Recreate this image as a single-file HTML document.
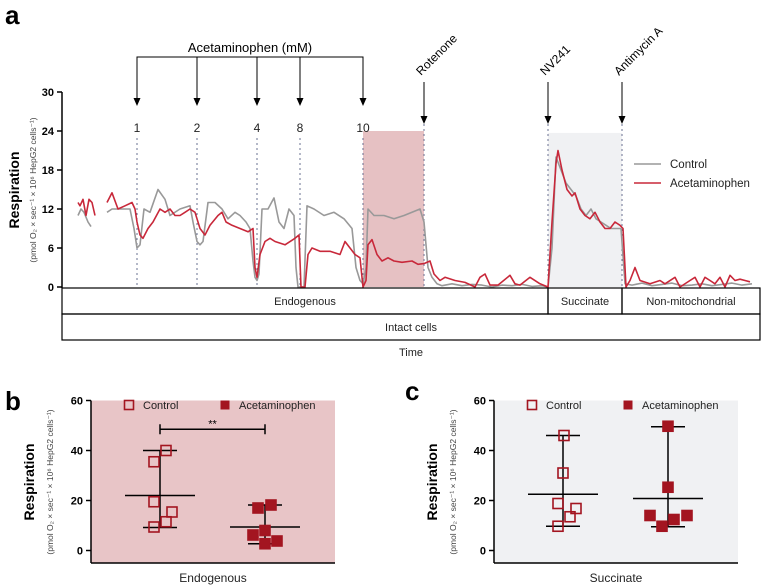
<!DOCTYPE html>
<html><head><meta charset="utf-8">
<style>
body{margin:0;background:#fff;font-family:"Liberation Sans",Arial,sans-serif;}
svg{display:block}
text{font-family:"Liberation Sans",Arial,sans-serif}
</style></head>
<body>
<svg id="fig" width="762" height="586" viewBox="0 0 762 586">
<g id="pa"></g>
<g id="pb"></g>
<g id="pc"></g>
</svg>
<script>
// ---- Panel a data: [time, respiration] pairs (null = gap) ----
const ctrlPoints=[[16,11],[19,12],[22,11.5],[26,10],[29,9.3],[33,null],
[45,11.5],[50,12],[58,12],[68,12],[72,9],[75,6],[78,6.5],[82,12],[88,11.5],[96,15],
[103,13.5],[108,11],[118,12],[128,12.5],[131,10],[135,7],[138,6.5],[141,7],[146,13],[153,13],
[160,12],[166,10.5],[173,11.5],[178,11],[184,10],[188,9],[191,4],[193,1.5],[195,1],[197,2],
[200,12],[206,12],[212,13.7],[217,10],[222,9],[227,12],[232,11],[234,3],[236,0],[242,0],
[245,12.5],[252,12],[262,11],[272,11.5],[282,10.5],[290,9],[294,3],[298,1],[301,0.5],[304,3],
[306,12],[312,11],[322,11],[332,10.5],[342,11],[350,11.5],[358,12],[362,10],[366,3],[370,1.5],
[375,0.5],[380,0.2],[390,0.5],[400,0.2],[410,0.4],[420,0.3],[430,0],[440,0.3],[450,0.2],[460,0.4],
[470,0.1],[480,0.2],[486,0],[490,6],[494,20],[499,18],[504,16],[509,15],[514,14],[519,12],
[524,11],[529,12],[534,10.5],[539,10],[544,9.5],[549,9],[554,9],[559,9],[563,0.5],[570,0.3],
[580,0.6],[590,0.2],[600,0.4],[610,0.6],[620,0.2],[630,0.3],[640,0.5],[650,0.2],[660,0.4],[670,0.6],
[680,0.3],[690,0.5]];
const drugPoints=[[16,13],[18,12.5],[21,13.5],[24,11],[27,13.5],[30,13],[33,11],[35,null],
[45,13],[50,14.5],[56,12],[63,12.5],[70,13],[73,12],[75,10],[78,8],[81,7.5],[86,9],[91,10],
[98,12],[103,11.5],[108,12],[113,11],[118,11],[123,11.5],[128,12],[133,11.5],[138,9],[143,8],
[148,9.5],[156,11],[160,11.5],[164,10],[170,9.5],[178,9],[186,8.5],[191,9],[193,3],[195,1.5],
[198,5],[203,7],[208,7.5],[213,7],[223,6.5],[233,7.5],[237,8],[239,0],[243,0],[246,5],
[250,6],[258,5.5],[268,5.5],[278,5],[283,7],[288,6],[293,5],[298,4.5],[301,0],[304,1],
[306,6.5],[310,7.3],[315,5],[320,4],[326,4.5],[332,4],[340,3.8],[350,4],[356,3.5],[362,3.6],
[368,4],[372,2],[378,1],[383,1.5],[393,1],[403,0.7],[413,0],[418,1.5],[423,2],[428,0.3],
[436,0.3],[448,1.8],[453,0.5],[458,0.3],[468,1.5],[478,0.5],[486,0],[490,10],[494,19],[496,21],
[500,18],[505,15],[510,14],[513,14.5],[518,12],[523,11],[528,10.5],[533,11.5],[538,10],[543,9],
[548,9],[553,10],[558,9.5],[561,9],[564,0],[568,1],[573,3],[578,1],[588,0.5],[598,1],
[603,0.5],[613,1.5],[618,0],[628,1],[633,1.5],[638,0],[643,1.5],[648,1],[653,0.5],[658,1.5],
[663,0],[668,1.8],[673,1],[678,1.2],[683,1],[688,0.8]];
const yTicksA=[0,6,12,18,24,30];
const doseLabels=["1","2","4","8","10"];
const doseTimes=[75,135,195,238,301];
const eventLabels=["Rotenone","NV241","Antimycin A"];
const eventTimes=[362,486,560];

// ---- Panel b/c data ----
const yTicksBC=[0,20,40,60];
const bCtrl=[35.5,40,19.5,15.4,11.5,9.4];
const bCtrlDx=[-6,6,-6,12,6,-6];
const bDrug=[17,18.2,6.2,8,2.7,3.8];
const bDrugDx=[-7,6,-12,0,0,12];
const bStats=[[22,40,9.2],[9.4,18.2,2.7]];
const cCtrl=[46,31,18.8,16.8,13.5,9.7];
const cCtrlDx=[1,0,-5,13,7,-5];
const cDrug=[49.7,25.3,14,14,12.4,9.7];
const cDrugDx=[0,0,-18,19,6,-6];
const cStats=[[22.5,46,9.7],[20.8,49.5,9.5]];

const NS="http://www.w3.org/2000/svg";
function mk(parent,tag,attrs,txt){const e=document.createElementNS(NS,tag);for(const k in attrs)e.setAttribute(k,attrs[k]);if(txt!=null)e.textContent=txt;parent.appendChild(e);return e;}

// ===== Panel A =====
const A=document.getElementById('pa');
const ax0=62, tx=t=>ax0+t, ya=v=>287-v*6.5;
let e;
e=mk(A,'text',{x:5,y:24,'font-size':26,'font-weight':'bold'},'a');


e=mk(A,'rect',{x:tx(301),y:ya(24),width:tx(362)-tx(301),height:ya(0)-ya(24),fill:'#e6c1c3'});


e=mk(A,'rect',{x:tx(486),y:ya(23.7),width:tx(560)-tx(486),height:ya(0)-ya(23.7),fill:'#f0f1f3'});


e=mk(A,'line',{x1:ax0,y1:ya(30),x2:ax0,y2:ya(0)+1,stroke:'#000','stroke-width':1.5});


yTicksA.forEach(v=>{
  mk(A,'line',{x1:ax0-5,y1:ya(v),x2:ax0,y2:ya(v),stroke:'#000','stroke-width':1.5});
  e=mk(A,'text',{x:ax0-8,y:ya(v)+4,'font-size':11,'font-weight':'bold','text-anchor':'end'},v);
  
  
});
e=mk(A,'text',{transform:'translate(19,190) rotate(-90)','font-size':14,'font-weight':'bold','text-anchor':'middle'},'Respiration');


e=mk(A,'text',{transform:'translate(36,190) rotate(-90)','font-size':8.5,fill:'#444','text-anchor':'middle'},'(pmol O₂ × sec⁻¹ × 10⁶ HepG2 cells⁻¹)');


const bx0=tx(doseTimes[0]),bx1=tx(doseTimes[doseTimes.length-1]);
mk(A,'polyline',{points:`${bx0},104 ${bx0},57 ${bx1},57 ${bx1},104`,fill:'none',stroke:'#000','stroke-width':1});
e=mk(A,'text',{x:(bx0+bx1)/2,y:52,'font-size':13,'text-anchor':'middle'},'Acetaminophen (mM)');


doseTimes.forEach((t,i)=>{
  const x=tx(t);
  mk(A,'line',{x1:x,y1:57,x2:x,y2:100,stroke:'#000','stroke-width':1});
  mk(A,'polygon',{points:`${x-3.5},98 ${x+3.5},98 ${x},106`,fill:'#000'});
  e=mk(A,'text',{x:x,y:132,'font-size':12,'text-anchor':'middle',fill:'#222'},doseLabels[i]);
  
  
  mk(A,'line',{x1:x,y1:138,x2:x,y2:287,stroke:'#6a7090','stroke-width':1,'stroke-dasharray':'2,3'});
});
eventTimes.forEach((t,i)=>{
  const x=tx(t);
  mk(A,'line',{x1:x,y1:82,x2:x,y2:118,stroke:'#000','stroke-width':1});
  mk(A,'polygon',{points:`${x-3.5},116 ${x+3.5},116 ${x},124`,fill:'#000'});
  e=mk(A,'text',{transform:`translate(${x-3},76) rotate(-45)`,'font-size':12},eventLabels[i]);
  
  
  mk(A,'line',{x1:x,y1:124,x2:x,y2:287,stroke:'#6a7090','stroke-width':1,'stroke-dasharray':'2,3'});
});
function pathOf(pts){let d='',pen=false;pts.forEach(p=>{const t=p[0],v=p[1];if(v==null){pen=false;return;}d+=(pen?'L':'M')+tx(t).toFixed(1)+','+ya(v).toFixed(1);pen=true;});return d;}
e=mk(A,'path',{d:pathOf(ctrlPoints),fill:'none',stroke:'#999','stroke-width':1.6,'stroke-linejoin':'round'});


e=mk(A,'path',{d:pathOf(drugPoints),fill:'none',stroke:'#c8283a','stroke-width':1.6,'stroke-linejoin':'round'});


mk(A,'line',{x1:634,y1:164,x2:661,y2:164,stroke:'#999','stroke-width':1.6});
e=mk(A,'text',{x:670,y:168,'font-size':11.5,fill:'#222'},'Control');


mk(A,'line',{x1:634,y1:183,x2:661,y2:183,stroke:'#c8283a','stroke-width':1.6});
e=mk(A,'text',{x:670,y:187,'font-size':11.5,fill:'#222'},'Acetaminophen');


function box(x1,x2,y1,y2,label,name){
  e=mk(A,'rect',{x:x1,y:y1,width:x2-x1,height:y2-y1,fill:'none',stroke:'#000','stroke-width':1.2});
  
  
  e=mk(A,'text',{x:(x1+x2)/2,y:(y1+y2)/2+4,'font-size':11,'text-anchor':'middle',fill:'#222'},label);
  
  
}
box(62,tx(486),288,314,'Endogenous','endogenous-box');
box(tx(486),tx(560),288,314,'Succinate','succinate-box');
box(tx(560),760,288,314,'Non-mitochondrial','non-mito-box');
box(62,760,314,340,'Intact cells','intact-cells-box');
e=mk(A,'text',{x:411,y:356,'font-size':11,'text-anchor':'middle',fill:'#222'},'Time');



// ===== Panels B, C =====
function scatter(G,letter,lx,ly,x0,x1,bg,gx,ctrl,ctrlDx,drug,drugDx,stats,xlabel,sig){
  const yb=v=>550.5-v*2.5;
  e=mk(G,'text',{x:lx,y:ly,'font-size':26,'font-weight':'bold'},letter);
  
  
  e=mk(G,'rect',{x:x0,y:yb(60),width:x1-x0,height:563-yb(60),fill:bg});
  
  
  mk(G,'line',{x1:x0,y1:yb(60),x2:x0,y2:563,stroke:'#000','stroke-width':1.5});
  mk(G,'line',{x1:x0,y1:563,x2:x1,y2:563,stroke:'#000','stroke-width':1.5});
  yTicksBC.forEach(v=>{
    mk(G,'line',{x1:x0-5,y1:yb(v),x2:x0,y2:yb(v),stroke:'#000','stroke-width':1.5});
    e=mk(G,'text',{x:x0-8,y:yb(v)+4,'font-size':11,'font-weight':'bold','text-anchor':'end'},v);
    
    
  });
  e=mk(G,'text',{transform:`translate(${x0-57},482) rotate(-90)`,'font-size':14,'font-weight':'bold','text-anchor':'middle'},'Respiration');
  
  
  e=mk(G,'text',{transform:`translate(${x0-38},482) rotate(-90)`,'font-size':8.5,fill:'#444','text-anchor':'middle'},'(pmol O₂ × sec⁻¹ × 10⁶ HepG2 cells⁻¹)');
  
  
  e=mk(G,'text',{x:(x0+x1)/2,y:582,'font-size':12,'text-anchor':'middle',fill:'#222'},xlabel);
  
  
  const lg=x0+38;
  mk(G,'rect',{x:lg-4.5,y:400.5,width:9,height:9,fill:'none',stroke:'#a31520','stroke-width':1.6});
  e=mk(G,'text',{x:lg+14,y:409,'font-size':11,fill:'#222'},'Control');
  
  
  mk(G,'rect',{x:lg+91.5,y:400.5,width:9,height:9,fill:'#a31520'});
  e=mk(G,'text',{x:lg+110,y:409,'font-size':11,fill:'#222'},'Acetaminophen');
  
  
  [ [gx[0],ctrl,ctrlDx,false], [gx[1],drug,drugDx,true] ].forEach((g,gi)=>{
    const cx=g[0],st=stats[gi];
    mk(G,'line',{x1:cx,y1:yb(st[1]),x2:cx,y2:yb(st[2]),stroke:'#000','stroke-width':1.5});
    mk(G,'line',{x1:cx-17,y1:yb(st[1]),x2:cx+17,y2:yb(st[1]),stroke:'#000','stroke-width':1.5});
    mk(G,'line',{x1:cx-17,y1:yb(st[2]),x2:cx+17,y2:yb(st[2]),stroke:'#000','stroke-width':1.5});
    mk(G,'line',{x1:cx-35,y1:yb(st[0]),x2:cx+35,y2:yb(st[0]),stroke:'#000','stroke-width':1.5});
    g[1].forEach((v,i)=>{
      const px=cx+g[2][i];
      e=mk(G,'rect',{x:px-5,y:yb(v)-5,width:10,height:10,fill:g[3]?'#a31520':'none',stroke:'#a31520','stroke-width':1.6});
      
      
    });
  });
  if(sig){
    const y=yb(48.5);
    mk(G,'line',{x1:gx[0],y1:y,x2:gx[1],y2:y,stroke:'#000','stroke-width':1.5});
    mk(G,'line',{x1:gx[0],y1:y-5,x2:gx[0],y2:y+5,stroke:'#000','stroke-width':1.5});
    mk(G,'line',{x1:gx[1],y1:y-5,x2:gx[1],y2:y+5,stroke:'#000','stroke-width':1.5});
    e=mk(G,'text',{x:(gx[0]+gx[1])/2,y:y-2,'font-size':11,'text-anchor':'middle'},'**');
    
    
  }
}
scatter(document.getElementById('pb'),'b',5,410,91,335,'#e8c5c7',[160,265],bCtrl,bCtrlDx,bDrug,bDrugDx,bStats,'Endogenous',true);
scatter(document.getElementById('pc'),'c',405,400,494,738,'#f0f1f3',[563,668],cCtrl,cCtrlDx,cDrug,cDrugDx,cStats,'Succinate',false);
</script>
</body></html>
